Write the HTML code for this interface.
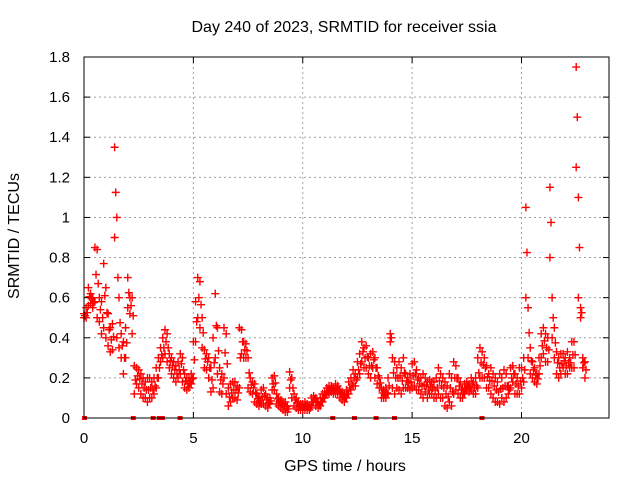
<!DOCTYPE html>
<html><head><meta charset="utf-8"><style>
body{margin:0;background:#fff}
svg{display:block;font-family:"Liberation Sans",sans-serif}
</style></head><body>
<svg id="chart" width="640" height="480">
<rect width="640" height="480" fill="#fff"/>
<text x="344" y="32" text-anchor="middle" font-size="16" fill="#000">Day 240 of 2023, SRMTID for receiver ssia</text>
<text x="345" y="471" text-anchor="middle" font-size="16" fill="#000">GPS time / hours</text>
<text transform="translate(19,236) rotate(-90)" text-anchor="middle" font-size="16" fill="#000">SRMTID / TECUs</text>
<g id="grid"></g>
<g id="ticks"></g>
<g id="marks"></g>
<rect x="84" y="57" width="525" height="361" fill="none" stroke="#000" stroke-width="1"/>
</svg>
<script>
const xTicks=[0,5,10,15,20];
const yTicks=[0,0.2,0.4,0.6,0.8,1,1.2,1.4,1.6,1.8];
const yTickLabels=["0","0.2","0.4","0.6","0.8","1","1.2","1.4","1.6","1.8"];
const tStart=0, tStep=0.1;
const hiVals=[0.52,0.55,0.65,0.62,0.6,0.85,0.84,0.6,0.58,0.77,
0.65,0.52,0.45,0.47,1.35,1.0,0.6,0.42,0.38,0.45,
0.7,0.6,0.6,0.26,0.25,0.24,0.22,0.2,0.18,0.2,
0.2,0.18,0.2,0.25,0.3,0.35,0.4,0.44,0.42,0.32,
0.3,0.28,0.26,0.28,0.32,0.3,0.22,0.2,0.2,0.22,
0.38,0.58,0.7,0.68,0.5,0.34,0.32,0.3,0.25,0.4,
0.62,0.45,0.25,0.22,0.45,0.42,0.15,0.17,0.18,0.18,
0.16,0.45,0.44,0.38,0.37,0.3,0.2,0.18,0.17,0.12,
0.1,0.14,0.15,0.12,0.1,0.1,0.2,0.21,0.12,0.1,
0.09,0.08,0.08,0.06,0.23,0.2,0.12,0.1,0.08,0.07,
0.07,0.08,0.07,0.06,0.1,0.11,0.1,0.08,0.1,0.12,
0.13,0.15,0.16,0.16,0.15,0.17,0.16,0.14,0.13,0.12,
0.14,0.18,0.2,0.24,0.22,0.28,0.32,0.38,0.35,0.36,
0.3,0.32,0.33,0.3,0.25,0.2,0.15,0.14,0.15,0.2,
0.42,0.3,0.28,0.25,0.28,0.25,0.3,0.22,0.2,0.22,
0.27,0.28,0.24,0.2,0.2,0.22,0.2,0.18,0.19,0.18,
0.18,0.2,0.25,0.22,0.2,0.18,0.16,0.22,0.2,0.28,
0.26,0.2,0.18,0.15,0.17,0.18,0.17,0.2,0.18,0.2,
0.3,0.35,0.33,0.3,0.26,0.22,0.25,0.22,0.2,0.18,
0.22,0.2,0.24,0.22,0.16,0.25,0.26,0.22,0.2,0.25,
0.25,0.3,1.05,0.55,0.35,0.28,0.25,0.22,0.3,0.42,
0.45,0.42,0.4,1.15,0.6,0.45,0.33,0.3,0.32,0.32,
0.3,0.33,0.3,0.38,0.38,1.75,1.1,0.55,0.3,0.28];
const loVals=[0.5,0.5,0.56,0.57,0.55,0.58,0.5,0.48,0.42,0.45,
0.4,0.36,0.33,0.34,0.9,0.4,0.35,0.3,0.22,0.3,
0.55,0.52,0.42,0.12,0.17,0.15,0.12,0.1,0.1,0.08,
0.1,0.1,0.12,0.15,0.2,0.28,0.3,0.32,0.28,0.25,
0.22,0.2,0.18,0.2,0.22,0.18,0.15,0.14,0.15,0.17,
0.2,0.38,0.5,0.45,0.35,0.25,0.24,0.2,0.13,0.15,
0.3,0.22,0.13,0.12,0.2,0.12,0.06,0.08,0.1,0.1,
0.09,0.15,0.32,0.3,0.3,0.15,0.13,0.12,0.08,0.07,
0.06,0.07,0.07,0.06,0.05,0.07,0.14,0.14,0.07,0.06,
0.05,0.04,0.03,0.03,0.15,0.1,0.06,0.05,0.04,0.04,
0.04,0.04,0.04,0.04,0.06,0.08,0.06,0.05,0.06,0.08,
0.1,0.12,0.12,0.13,0.12,0.12,0.12,0.1,0.09,0.08,
0.1,0.12,0.14,0.16,0.16,0.2,0.22,0.28,0.25,0.25,
0.22,0.2,0.25,0.2,0.17,0.15,0.1,0.1,0.1,0.12,
0.38,0.15,0.12,0.15,0.14,0.12,0.15,0.15,0.15,0.14,
0.15,0.16,0.14,0.14,0.12,0.1,0.13,0.1,0.12,0.12,
0.1,0.1,0.12,0.1,0.1,0.06,0.05,0.08,0.06,0.12,
0.14,0.12,0.1,0.1,0.12,0.14,0.13,0.14,0.12,0.12,
0.15,0.2,0.2,0.2,0.15,0.15,0.12,0.1,0.08,0.08,
0.07,0.1,0.08,0.1,0.12,0.15,0.18,0.12,0.12,0.12,
0.15,0.18,0.6,0.3,0.22,0.2,0.18,0.17,0.22,0.3,
0.32,0.28,0.28,0.8,0.4,0.3,0.22,0.2,0.22,0.25,
0.22,0.22,0.25,0.25,0.25,1.25,0.6,0.5,0.25,0.2];
const zeroTimes=[0.0,2.23,3.14,3.42,3.56,4.37,11.35,12.34,13.33,14.17,18.17];

const NS="http://www.w3.org/2000/svg";
const X0=84,X1=609,Y0=418,Y1=57,XMAX=24,YMAX=1.8;
function xs(t){return X0+(X1-X0)*t/XMAX;}
function ys(v){return Y0-(Y0-Y1)*v/YMAX;}
const grid=document.getElementById('grid'),ticks=document.getElementById('ticks'),marks=document.getElementById('marks');
function mk(tag,attrs,parent){const e=document.createElementNS(NS,tag);for(const k in attrs)e.setAttribute(k,attrs[k]);parent.appendChild(e);return e;}
xTicks.forEach(t=>{
  const x=xs(t);
  if(t>0){const g=mk('line',{x1:x,x2:x,y1:Y1,y2:Y0,stroke:'#a0a0a0','stroke-dasharray':'2,3'},grid);
  
  }
  const a=mk('line',{x1:x,x2:x,y1:Y0,y2:Y0-6,stroke:'#000'},ticks);
  
  
  const b=mk('line',{x1:x,x2:x,y1:Y1,y2:Y1+6,stroke:'#000'},ticks);
  
  
  const l=mk('text',{x:x,y:443,'text-anchor':'middle','font-size':'15'},ticks);
  l.textContent=String(t);
  
  
});
yTicks.forEach((v,i)=>{
  const y=ys(v);
  if(v>0&&v<YMAX){const g=mk('line',{x1:X0,x2:X1,y1:y,y2:y,stroke:'#a0a0a0','stroke-dasharray':'2,3'},grid);
  
  }
  const a=mk('line',{x1:X0,x2:X0+6,y1:y,y2:y,stroke:'#000'},ticks);
  
  
  const b=mk('line',{x1:X1,x2:X1-6,y1:y,y2:y,stroke:'#000'},ticks);
  
  
  const l=mk('text',{x:70,y:y+5,'text-anchor':'end','font-size':'15'},ticks);
  l.textContent=yTickLabels[i];
  
  
});
function plus(t,v){
  const x=xs(t),y=ys(v);
  const p=mk('path',{d:`M${x-4},${y}H${x+4}M${x},${y-4}V${y+4}`,stroke:'#f00','stroke-width':'1.4',fill:'none'},marks);
  
  
}
hiVals.forEach((v,i)=>{
  const t=tStart+i*tStep;
  plus(t,v);
  plus(t,loVals[i]);
  plus(t+tStep/2,(v+loVals[i])/2);
});
zeroTimes.forEach(t=>{
  const r=mk('rect',{x:xs(t)-2,y:Y0-2,width:5,height:4,fill:'#f00'},marks);
  
  
});
</script>
</body></html>
